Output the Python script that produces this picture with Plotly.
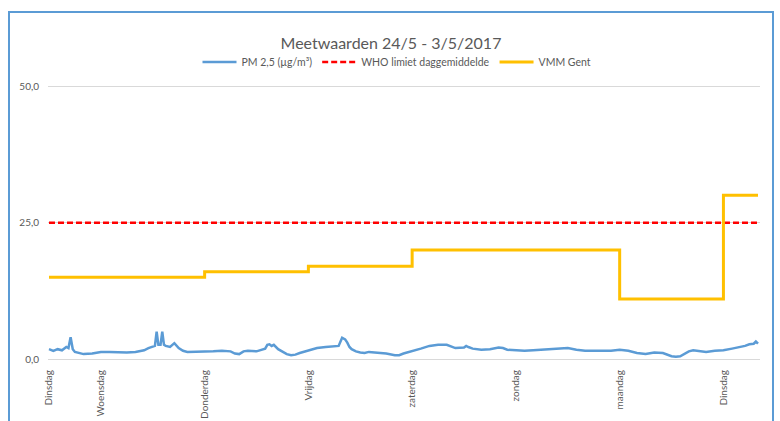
import plotly.graph_objects as go

# ---- data (hours relative to Wednesday 00:00) ----
pm_hours = [-12, -11, -10, -9, -8, -7.5, -7, -6.5, -6, -5, -4, -2, 0, 2, 4, 6, 8, 10, 11, 12,
            12.5, 12.9, 13.3, 13.8, 14.2, 14.6, 15, 16, 17, 18, 19, 20, 22, 24, 26, 28, 30, 31, 32, 33,
            34, 36, 37, 38, 38.5, 39, 39.5, 40, 41, 42, 43, 44, 45, 46, 48, 50, 52, 54, 55, 55.8,
            56.5, 57, 57.5, 58, 59, 60, 61, 62, 64, 66, 68, 69, 70, 72, 74, 76, 78, 80, 82, 84,
            84.5, 85, 86, 88, 90, 92, 93, 94, 96, 98, 100, 102, 104, 106, 108, 110, 112, 114, 116, 118,
            120, 122, 124, 126, 128, 130, 132, 133, 134, 135, 136, 137, 138, 139, 140, 142, 144, 146, 148, 149,
            150, 151, 151.5, 152]
pm_values = [1.8, 1.5, 1.8, 1.6, 2.2, 2.0, 4.0, 1.8, 1.3, 1.1, 0.9, 1.0, 1.3, 1.3, 1.2, 1.2, 1.3, 1.6, 2.0, 2.2,
             2.4, 5.0, 2.6, 2.6, 5.0, 2.6, 2.4, 2.2, 2.9, 2.0, 1.5, 1.3, 1.3, 1.3, 1.4, 1.5, 1.4, 1.0, 0.9, 1.4,
             1.5, 1.4, 1.6, 1.9, 2.6, 2.7, 2.4, 2.6, 1.8, 1.4, 0.9, 0.7, 0.8, 1.1, 1.5, 2.0, 2.2, 2.3, 2.4, 3.9,
             3.6, 3.0, 2.2, 1.8, 1.4, 1.2, 1.1, 1.3, 1.2, 1.0, 0.7, 0.7, 1.0, 1.4, 1.9, 2.4, 2.6, 2.6, 2.0, 2.1,
             2.4, 2.2, 1.9, 1.7, 1.8, 2.1, 2.0, 1.7, 1.6, 1.5, 1.6, 1.7, 1.8, 2.0, 2.0, 1.7, 1.5, 1.5, 1.5, 1.5,
             1.7, 1.5, 1.1, 0.9, 1.2, 1.1, 0.5, 0.4, 0.5, 1.0, 1.4, 1.6, 1.5, 1.3, 1.3, 1.5, 1.6, 1.9, 2.2, 2.4,
             2.7, 2.8, 3.2, 2.8]

who_hours = [-12, 152]
who_values = [25, 25]

vmm_hours = [-12, 24, 48, 72, 120, 144, 152]
vmm_values = [15, 16, 17, 20, 11, 30, 30]

day_hours = [-12, 0, 24, 48, 72, 96, 120, 144]
day_labels = ["Dinsdag", "Woensdag", "Donderdag", "Vrijdag", "zaterdag", "zondag", "maandag", "Dinsdag"]

title_text = "Meetwaarden 24/5 - 3/5/2017"

FONT = "Lato, Liberation Sans, Arial, sans-serif"
GREY = "#595959"

# plot-area geometry in pixels
L, R, T, B = 48, 760, 83, 359
PW, PH = R - L, B - T

fig = go.Figure()
fig.add_trace(go.Scatter(x=pm_hours, y=pm_values, mode="lines", name="PM 2,5 (µg/m³)",
                         line=dict(color="#5B9BD5", width=2.5)))
fig.add_trace(go.Scatter(x=who_hours, y=who_values, mode="lines", name="WHO limiet daggemiddelde",
                         line=dict(color="#FF0000", width=2.5, dash="6px,3px")))
fig.add_trace(go.Scatter(x=vmm_hours, y=vmm_values, mode="lines", name="VMM Gent",
                         line=dict(color="#FFC000", width=3, shape="hv")))

fig.update_layout(
    width=780, height=421,
    margin=dict(l=L, r=780 - R, t=T, b=421 - B, autoexpand=False),
    paper_bgcolor="white", plot_bgcolor="white",
    separators=",.",
    font=dict(family=FONT, color=GREY, size=10),
    title=dict(text=title_text, x=391 / 780, xanchor="center", y=1 - 43 / 421, yanchor="middle",
               font=dict(family=FONT, size=16, color=GREY)),
    legend=dict(orientation="h", x=(397 - L) / PW, xanchor="center", y=(B - 62) / PH, yanchor="middle",
                font=dict(family=FONT, size=10.5, color=GREY), bgcolor="rgba(0,0,0,0)",
                itemwidth=34, tracegroupgap=0),
    showlegend=True,
)
fig.update_xaxes(range=[-12.23, 152.46], tickmode="array", tickvals=day_hours, ticktext=day_labels,
                 tickangle=-90, showgrid=False, zeroline=False, showline=True, linecolor="#D9D9D9",
                 linewidth=1, ticks="", ticklabelstandoff=6, automargin=False,
                 tickfont=dict(family=FONT, size=10, color=GREY))
fig.update_yaxes(range=[0, 50.6], tickmode="array", tickvals=[0, 25, 50], tickformat=".1f",
                 showgrid=True, gridcolor="#D9D9D9", gridwidth=1, zeroline=False, showline=False,
                 ticks="", ticklabelstandoff=8, automargin=False,
                 tickfont=dict(family=FONT, size=10, color=GREY))

# chart border
fig.add_shape(type="rect", xref="paper", yref="paper",
              x0=(9 - L) / PW, x1=(773 - L) / PW, y0=(B - 440) / PH, y1=(B - 12) / PH,
              line=dict(color="#5B9BD5", width=2), fillcolor="rgba(0,0,0,0)", layer="above")

fig.write_html("out.html", config={"displayModeBar": False},
               post_script="document.body.style.margin='0';document.body.style.overflow='hidden';")
